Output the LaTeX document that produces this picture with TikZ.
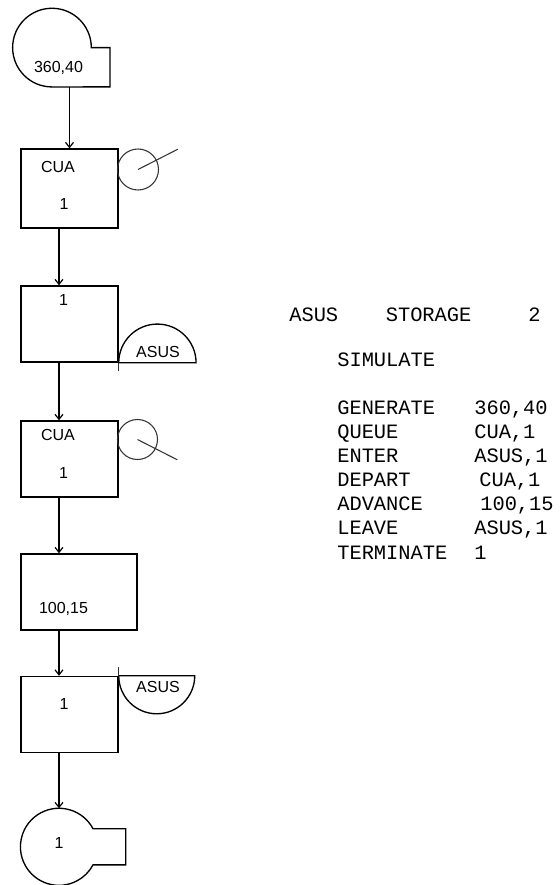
\documentclass[tikz,border=0pt]{standalone}
\usepackage{fontspec}
\setmainfont{Liberation Sans}
\newfontfamily\gpssfont{Liberation Mono}
\usetikzlibrary{positioning, arrows.meta, calc}

\begin{document}
\begin{tikzpicture}[x=0.75pt, y=-0.75pt,
  block/.style={draw, line width=1.1pt, inner sep=0pt, minimum width=72.75pt, minimum height=57pt},
  outline/.style={draw, line width=1pt},
  ring/.style={circle, draw=black!80, line width=0.8pt, inner sep=0pt},
  tick/.style={draw=black!80, line width=0.8pt},
  arr/.style={-{Straight Barb[length=3.75pt, width=6pt]}, line width=0.9pt},
  lbl/.style={font=\fontsize{12}{14}\selectfont, anchor=base, inner sep=0pt},
  code/.style={font=\gpssfont\fontsize{15.3}{18}\selectfont, anchor=base west, inner sep=0pt},
]
\useasboundingbox (0,0) rectangle (560,885);
\coordinate (ax) at (59,0);

% GENERATE
\draw[outline] (91.3,47.6) arc[start angle=0, end angle=270, radius=29.5pt] coordinate (gen)
  -- (110,86.9) -- (110,47.6) -- cycle;
\node[lbl] (gentxt) at (58.5,72) {360,40};

% QUEUE
\node[block, minimum height=59.25pt] (q) at (69.5,188.5) {};
\node[lbl] (qname) at (58,172) {CUA};
\node[lbl] (qnum) at (64,209.5) {1};
\node[ring, minimum size=30.75pt] (qc) at (138,169.5) {};
\draw[tick] (qc.center) -- ++(27:33.5pt);

% ENTER
\node[block] (e) at (69.5,324) {};
\node[lbl] (enum) at (63.5,305) {1};
\draw[outline] (e.south east) arc[start angle=180, end angle=0, radius=29pt] -- cycle;
\draw[tick] (e.south east) -- ++(0,8);
\node[lbl] (estore) at (158,357) {ASUS};

% DEPART
\node[block] (d) at (69.5,459) {};
\node[lbl] (dname) at (58,440) {CUA};
\node[lbl] (dnum) at (63.5,478) {1};
\node[ring, minimum size=30pt] (dc) at (137.5,439.5) {};
\draw[tick] (dc.center) -- ++(-27:33.5pt);

% ADVANCE
\node[block, minimum width=87pt] (a) at (79,592) {};
\node[lbl] (atime) at (63.5,613.5) {100,15};

% LEAVE
\node[block] (l) at (69.5,714.5) {};
\node[lbl] (lnum) at (64,709) {1};
\draw[outline] (l.north east) arc[start angle=180, end angle=360, radius=28.5pt] -- cycle;
\draw[tick] (l.north east) -- ++(0,-9);
\node[lbl] (lstore) at (158,692) {ASUS};

% TERMINATE
\draw[outline] (93,828.7) arc[start angle=28, end angle=332, radius=28.9pt]
  -- (125.7,864.9) -- (125.7,828.7) -- cycle;
\coordinate (term) at (59,808.3);
\node[lbl] (tnum) at (59,848) {1};

% Arrows
\draw[arr] (gen -| q.north) -- (q.north);
\draw[arr] (q.south -| ax) -- (e.north -| ax);
\draw[arr] (e.south -| ax) -- (d.north -| ax);
\draw[arr] (d.south -| ax) -- (a.north -| ax);
\draw[arr] (a.south -| ax) -- (l.north -| ax);
\draw[arr] (l.south -| ax) -- (term);

% GPSS listing
\node[code] (stor) at (289,321) {ASUS};
\node[code] (storkw) at (385.5,321) {STORAGE};
\node[code] (storcap) at (528,321) {2};
\node[code] (sim) at (337,366) {SIMULATE};

\node[code] (kw1) at (337,414) {GENERATE};
\node[code] (op1) at (474,414) {360,40};
\node[code] (kw2) at (337,438.2) {QUEUE};
\node[code] (op2) at (474,438.2) {CUA,1};
\node[code] (kw3) at (337,462.3) {ENTER};
\node[code] (op3) at (474,462.3) {ASUS,1};
\node[code] (kw4) at (337,486.5) {DEPART};
\node[code] (op4) at (479,486.5) {CUA,1};
\node[code] (kw5) at (337,510.7) {ADVANCE};
\node[code] (op5) at (480,510.7) {100,15};
\node[code] (kw6) at (337,534.8) {LEAVE};
\node[code] (op6) at (474,534.8) {ASUS,1};
\node[code] (kw7) at (337,559) {TERMINATE};
\node[code] (op7) at (474,559) {1};

\end{tikzpicture}
\end{document}
